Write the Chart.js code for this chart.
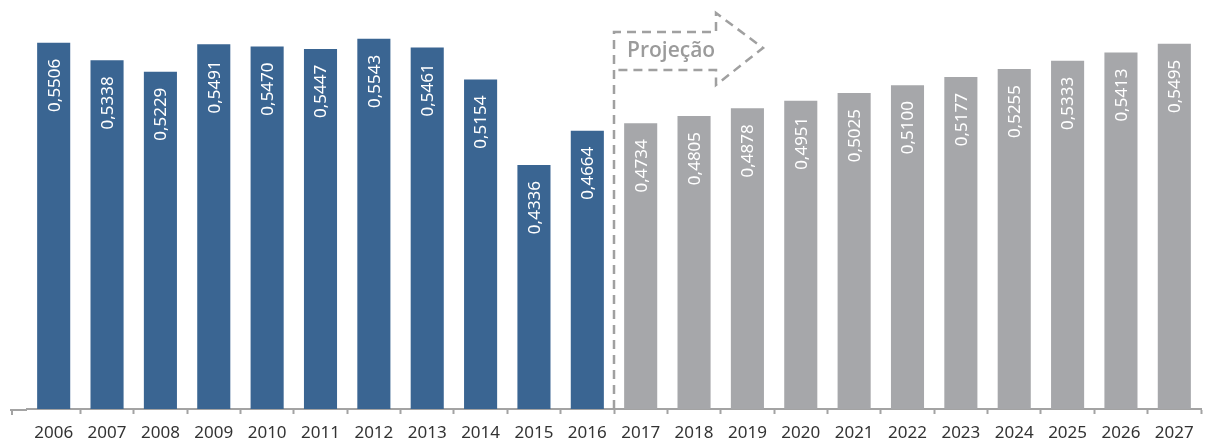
<!DOCTYPE html>
<html>
<head>
<meta charset="utf-8">
<script src="https://cdn.jsdelivr.net/npm/chart.js@4/dist/chart.umd.min.js"></script>
<style>
  html, body { margin: 0; padding: 0; background: #fff; }
  #wrap { width: 1206px; height: 441px; }
</style>
</head>
<body>
<div id="wrap"><canvas id="myChart"></canvas></div>
<script>
// anos e valores (historico ate 2016, projecao a partir de 2017)
var anos = ["2006","2007","2008","2009","2010","2011","2012","2013","2014","2015","2016",
            "2017","2018","2019","2020","2021","2022","2023","2024","2025","2026","2027"];
var historico = [0.5506, 0.5338, 0.5229, 0.5491, 0.5470, 0.5447, 0.5543, 0.5461, 0.5154, 0.4336, 0.4664];
var projecao = [0.4734, 0.4805, 0.4878, 0.4951, 0.5025, 0.5100, 0.5177, 0.5255, 0.5333, 0.5413, 0.5495];
var rotuloProjecao = "Projeção";

var azul = "#3a6592";
var cinza = "#a6a7aa";
var corEixo = "#a3a3a3";

var valores = historico.concat(projecao);
var cores = valores.map(function (v, i) { return i < historico.length ? azul : cinza; });

function fmt(v) { return v.toFixed(4).replace(".", ","); }

// rotulos verticais dentro das barras
var rotulosBarras = {
	id: "rotulosBarras",
	afterDatasetsDraw: function (chart) {
		var ctx = chart.ctx;
		var meta = chart.getDatasetMeta(0);
		ctx.save();
		ctx.fillStyle = "#ffffff";
		ctx.font = "17px 'Noto Sans'";
		ctx.textAlign = "right";
		ctx.textBaseline = "middle";
		meta.data.forEach(function (bar, i) {
			ctx.save();
			ctx.translate(bar.x + 1, bar.y + 16);
			ctx.rotate(-Math.PI / 2);
			ctx.fillText(fmt(valores[i]), 0, 0);
			ctx.restore();
		});
		ctx.restore();
	}
};

// prolongamento do eixo a esquerda + seta tracejada "Projecao"
var anotacoes = {
	id: "anotacoes",
	afterDraw: function (chart) {
		var ctx = chart.ctx;
		var x = chart.scales.x;
		var base = chart.chartArea.bottom;
		ctx.save();
		ctx.strokeStyle = corEixo;
		ctx.lineWidth = 2;
		ctx.beginPath();
		ctx.moveTo(10, base + 1);
		ctx.lineTo(chart.chartArea.left, base + 1);
		ctx.moveTo(12, base + 1);
		ctx.lineTo(12, base + 6);
		ctx.stroke();

		var xs = (x.getPixelForValue(historico.length - 1) + x.getPixelForValue(historico.length)) / 2;
		var xe = xs + 102;
		ctx.strokeStyle = "#a0a0a0";
		ctx.lineWidth = 2.5;
		ctx.setLineDash([9, 6]);
		ctx.beginPath();
		ctx.moveTo(xs, base);
		ctx.lineTo(xs, 32);
		ctx.lineTo(xe, 32);
		ctx.lineTo(xe, 13);
		ctx.lineTo(xe + 47, 48);
		ctx.lineTo(xe, 85);
		ctx.lineTo(xe, 70);
		ctx.lineTo(xs, 70);
		ctx.stroke();
		ctx.setLineDash([]);

		ctx.fillStyle = "#9b9b9b";
		ctx.font = "600 21px 'Open Sans'";
		ctx.textAlign = "left";
		ctx.textBaseline = "middle";
		ctx.fillText(rotuloProjecao, xs + 13, 51);
		ctx.restore();
	}
};

var ctx = document.getElementById("myChart");
var myChart = new Chart(ctx, {
	type: "bar",
	data: {
		labels: anos,
		datasets: [{
			data: valores,
			backgroundColor: cores,
			barPercentage: 0.62,
			categoryPercentage: 1.0
		}]
	},
	options: {
		responsive: true,
		maintainAspectRatio: false,
		animation: false,
		layout: { padding: { left: 27, right: 5, top: 12, bottom: 0 } },
		plugins: {
			legend: { display: false },
			tooltip: { enabled: false }
		},
		scales: {
			y: {
				display: false,
				min: 0.2,
				max: 0.58
			},
			x: {
				afterFit: function (scale) { scale.height = 32; },
				grid: {
					offset: true,
					drawOnChartArea: false,
					drawTicks: true,
					tickLength: 5,
					tickWidth: 2,
					tickColor: function (c) {
						return (c.index === 0 || c.index === anos.length) ? "rgba(0,0,0,0)" : corEixo;
					},
					color: corEixo
				},
				border: { display: true, color: corEixo, width: 2 },
				ticks: {
					color: "#333333",
					font: { family: "'Noto Sans'", size: 17 },
					padding: 9,
					maxRotation: 0,
					autoSkip: false
				}
			}
		}
	},
	plugins: [rotulosBarras, anotacoes]
});
</script>
</body>
</html>
